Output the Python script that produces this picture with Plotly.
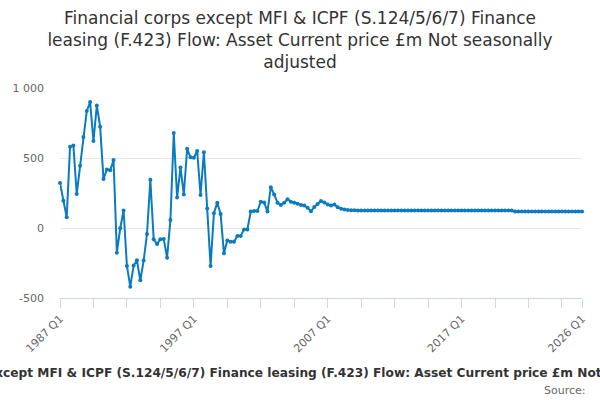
import plotly.graph_objects as go

TITLE = ("Financial corps except MFI & ICPF (S.124/5/6/7) Finance<br>"
         "leasing (F.423) Flow: Asset Current price £m Not seasonally<br>"
         "adjusted")
AXIS_TITLE = ("Financial corps except MFI & ICPF (S.124/5/6/7) Finance leasing "
              "(F.423) Flow: Asset Current price £m Not seasonally adjusted")

LINE_COLOR = "#0b7bc1"
GRID_COLOR = "#e6e6e6"
AXIS_COLOR = "#ccd6eb"
LABEL_COLOR = "#666666"

# quarters 1987 Q1 .. 2026 Q1
quarters = [f"{y} Q{q}" for y in range(1987, 2027) for q in range(1, 5)]
quarters = quarters[: quarters.index("2026 Q1") + 1]

values = [
    # 1987-1992
    322, 195, 76, 581, 590, 243, 445, 650, 836, 900, 621, 875, 724, 350, 418, 412,
    486, -176, -2, 125, -271, -419, -268, -231, -373,
    # 1993-1999
    -233, -43, 345, -81, -114, -81, -79, -212, 57, 678, 217, 433, 240, 566, 505,
    502, 550, 236, 541, 140, -271, 105, 181, 100, -181, -90, -98,
    # 2000-2008
    -98, -57, -57, -10, -10, 117, 121, 121, 188, 183, 117, 291, 240, 181, 164,
    181, 205, 188, 181, 174, 164, 160, 145, 119, 150, 171, 193, 183, 168, 160,
    168, 148, 138, 132, 129, 127, 126,
    # 2009-2026
    125, 125, 125, 125, 125, 125, 125, 125, 125, 125, 125, 125, 125, 125, 125,
    125, 125, 125, 125, 125, 125, 125, 125, 125, 125, 125, 125, 125, 125, 125,
    125, 125, 125, 125, 125, 125, 125, 125, 125, 125, 125, 125, 125, 125, 125,
    125, 125,
    118, 118, 118, 118, 118, 118, 118, 118, 118, 118, 118, 118, 118, 118, 118,
    118, 118, 118, 118, 118, 118,
]

y_ticks = [-500, 0, 500, 1000]
y_tick_labels = ["-500", "0", "500", "1 000"]

# tick marks every 10 quarters plus the last one, labels every 40
tick_idx = list(range(0, len(quarters), 10)) + [len(quarters) - 1]
x_tickvals = [quarters[i] for i in tick_idx]
x_ticktext = [quarters[i] if (i % 40 == 0 or i == len(quarters) - 1) else ""
              for i in tick_idx]

fig = go.Figure(
    go.Scatter(
        x=quarters,
        y=values,
        mode="lines+markers",
        line=dict(color=LINE_COLOR, width=2),
        marker=dict(color=LINE_COLOR, size=4),
        cliponaxis=False,
        hoverinfo="x+y",
    )
)

fig.update_layout(
    width=600,
    height=400,
    margin=dict(l=58, r=17, t=88, b=102),
    paper_bgcolor="white",
    plot_bgcolor="white",
    font=dict(family="DejaVu Sans", color="#333333"),
    showlegend=False,
    title=dict(
        text=TITLE,
        x=0.5,
        xanchor="center",
        y=0.94,
        yanchor="top",
        font=dict(size=17, color="#333333"),
    ),
    xaxis=dict(
        type="category",
        range=[0, len(quarters) - 1],
        tickmode="array",
        tickvals=x_tickvals,
        ticktext=x_ticktext,
        tickangle=-45,
        ticks="outside",
        ticklen=9,
        tickcolor=AXIS_COLOR,
        showline=True,
        linecolor=AXIS_COLOR,
        showgrid=False,
        zeroline=False,
        tickfont=dict(size=11, color=LABEL_COLOR),
    ),
    yaxis=dict(
        range=[-500, 1000],
        tickmode="array",
        tickvals=y_ticks,
        ticktext=y_tick_labels,
        showgrid=True,
        gridcolor=GRID_COLOR,
        zeroline=False,
        showline=False,
        ticks="",
        ticklabelstandoff=15,
        tickfont=dict(size=11, color=LABEL_COLOR),
    ),
    annotations=[
        dict(
            text="<b>" + AXIS_TITLE + "</b>",
            xref="paper", yref="paper",
            x=0.5 - 10 / 525, y=-75 / 210,
            xanchor="center", yanchor="middle",
            showarrow=False,
            font=dict(size=12.2, color="#333333"),
        ),
        dict(
            text="Source:",
            xref="paper", yref="paper",
            x=1 + 6 / 525, y=-92 / 210,
            xanchor="right", yanchor="middle",
            showarrow=False,
            font=dict(size=11, color=LABEL_COLOR),
        ),
    ],
)

fig.write_html(
    "out.html",
    config={"displayModeBar": False},
    post_script="document.body.style.margin = '0';",
)
